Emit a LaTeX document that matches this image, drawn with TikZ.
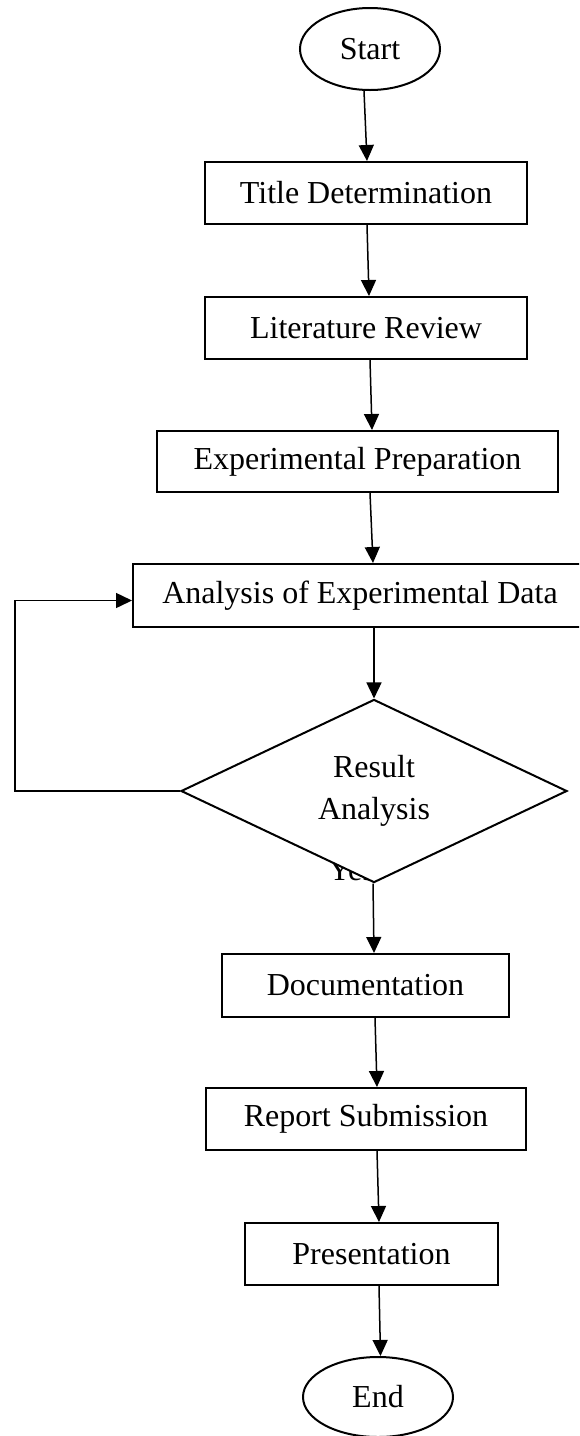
\documentclass[tikz,border=0pt]{standalone}
\usepackage{fontspec}
\setmainfont{Liberation Serif}
\usetikzlibrary{shapes.geometric,arrows.meta,positioning}

\begin{document}
\begin{tikzpicture}[x=1pt,y=-1pt,
  every node/.style={font=\fontsize{32}{42}\selectfont},
  box/.style={draw,rectangle,line width=2pt,inner sep=0pt,minimum height=62pt},
  term/.style={draw,ellipse,line width=2pt,inner sep=0pt,minimum width=140pt,minimum height=82pt},
  decision/.style={draw,diamond,fill=white,line width=2pt,inner sep=0pt,minimum width=386pt,minimum height=182pt,align=center},
  flow/.style={line width=1.5pt,-{Triangle[length=16pt,width=15pt]}}]

  \useasboundingbox (0,0) rectangle (579,1436);
  \clip (0,0) rectangle (579,1436);

  \node [term] (start) at (370,49) {Start};
  \node [box,minimum width=322pt] (title) at (366,193) {Title Determination};
  \node [box,minimum width=322pt] (lit) at (366,328) {Literature Review};
  \node [box,minimum width=401pt,minimum height=61pt] (prep) at (357.5,461.5) {Experimental Preparation};
  \node [box,minimum width=454pt,minimum height=63pt] (analysis) at (360,595.5) {Analysis of Experimental Data};

  % label partly covered by the decision
  \node [anchor=base west,inner sep=0pt] (yes) at (328,880) {Yes};
  \node [decision] (result) at (374,791) {Result\\Analysis};

  \node [box,minimum width=287pt,minimum height=63pt] (doc) at (365.5,985.5) {Documentation};
  \node [box,minimum width=320pt] (report) at (366,1119) {Report Submission};
  \node [box,minimum width=253pt] (pres) at (371.5,1254) {Presentation};
  \node [term,minimum width=150pt,minimum height=80pt] (finish) at (378,1397) {End};

  \draw [flow] ([xshift=-6pt]start.south) -- ([xshift=1pt]title.north);
  \draw [flow] ([xshift=1pt]title.south) -- ([xshift=3pt]lit.north);
  \draw [flow] ([xshift=4pt]lit.south) -- ([xshift=14.5pt]prep.north);
  \draw [flow] ([xshift=12.5pt]prep.south) -- ([xshift=13pt]analysis.north);
  \draw [flow] ([xshift=14pt]analysis.south) -- (result.north);

  \coordinate (loop) at (15,791);
  \draw [flow] (result.west) -- (loop) |- ([yshift=-5pt]analysis.west);

  \draw [flow] ([xshift=-1pt]result.south) -- ([xshift=8.5pt]doc.north);
  \draw [flow] ([xshift=9.5pt]doc.south) -- ([xshift=11pt]report.north);
  \draw [flow] ([xshift=11pt]report.south) -- ([xshift=7.5pt]pres.north);
  \draw [flow] ([xshift=7.5pt]pres.south) -- ([xshift=2.5pt]finish.north);
\end{tikzpicture}
\end{document}
